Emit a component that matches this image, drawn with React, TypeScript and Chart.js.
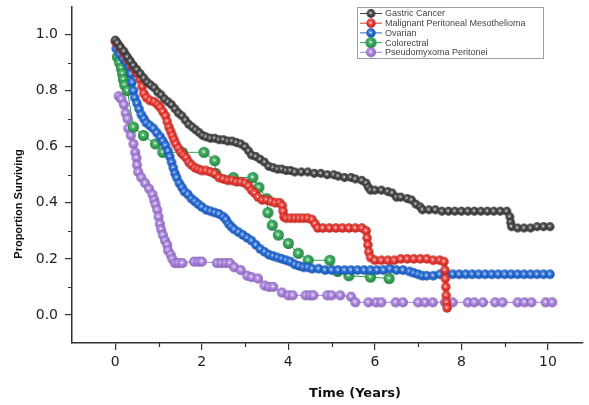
import React, { useEffect, useRef } from "react";
import { Chart, registerables } from "chart.js";
Chart.register(...registerables);

const seriesNames = [
  "Gastric Cancer",
  "Malignant Peritoneal Mesothelioma",
  "Ovarian",
  "Colorectral",
  "Pseudomyxoma Peritonei",
];
const seriesColors = ["#404040", "#e8332c", "#1f66d4", "#2fa252", "#a67ddc"];
const markerRadius = [4.4, 4.7, 4.7, 5.5, 4.9];

const xTickValues = [0, 2, 4, 6, 8, 10];
const xMinorValues = [1, 3, 5, 7, 9];
const yTickValues = [0, 0.2, 0.4, 0.6, 0.8, 1.0];
const yMinorValues = [0.1, 0.3, 0.5, 0.7, 0.9];

const gastricTime = [
  0.0, 0.05, 0.12, 0.2, 0.28, 0.35, 0.42, 0.5, 0.58, 0.66, 0.74, 0.82, 0.9, 0.98, 1.06, 1.14, 1.22, 1.3,
  1.38, 1.46, 1.54, 1.62, 1.7, 1.78, 1.86, 1.94, 2.02, 2.1, 2.2, 2.3, 2.4, 2.5, 2.6, 2.7, 2.8, 2.9, 3.0,
  3.08, 3.15, 3.25, 3.35, 3.45, 3.55, 3.65, 3.75, 3.85, 3.95, 4.05, 4.15, 4.3, 4.45, 4.6, 4.75, 4.9, 5.05,
  5.15, 5.3, 5.45, 5.55, 5.7, 5.8, 5.85, 5.9, 6.0, 6.15, 6.3, 6.4, 6.5, 6.6, 6.75, 6.85, 6.95, 7.05, 7.1,
  7.25, 7.4, 7.55, 7.7, 7.85, 8.0, 8.15, 8.3, 8.45, 8.6, 8.75, 8.9, 9.05, 9.12, 9.14, 9.16, 9.3, 9.45, 9.6,
  9.75, 9.9, 10.05,
];
const gastricSurv = [
  0.98, 0.97, 0.955, 0.94, 0.92, 0.905, 0.89, 0.875, 0.86, 0.845, 0.83, 0.82, 0.81, 0.795, 0.785, 0.77, 0.76,
  0.75, 0.735, 0.72, 0.71, 0.695, 0.68, 0.67, 0.66, 0.65, 0.64, 0.635, 0.63, 0.63, 0.625, 0.625, 0.62, 0.62,
  0.615, 0.61, 0.6, 0.585, 0.57, 0.565, 0.555, 0.545, 0.53, 0.525, 0.52, 0.52, 0.515, 0.515, 0.51, 0.51,
  0.51, 0.505, 0.505, 0.5, 0.5, 0.495, 0.49, 0.49, 0.485, 0.48, 0.47, 0.455, 0.445, 0.445, 0.445, 0.44,
  0.435, 0.42, 0.42, 0.415, 0.41, 0.395, 0.385, 0.375, 0.375, 0.375, 0.37, 0.37, 0.37, 0.37, 0.37, 0.37,
  0.37, 0.37, 0.37, 0.37, 0.37, 0.35, 0.33, 0.315, 0.31, 0.31, 0.31, 0.315, 0.315, 0.315,
];

const mesoTime = [
  0.0, 0.08, 0.15, 0.22, 0.3, 0.38, 0.46, 0.52, 0.58, 0.62, 0.66, 0.72, 0.8, 0.9, 0.98, 1.04, 1.1, 1.16,
  1.2, 1.24, 1.28, 1.32, 1.36, 1.4, 1.46, 1.52, 1.58, 1.64, 1.7, 1.76, 1.84, 1.92, 2.0, 2.1, 2.2, 2.3, 2.4,
  2.5, 2.6, 2.7, 2.8, 2.9, 3.0, 3.08, 3.15, 3.22, 3.3, 3.4, 3.5, 3.6, 3.7, 3.8, 3.86, 3.88, 3.9, 3.95, 4.05,
  4.15, 4.25, 4.35, 4.45, 4.55, 4.62, 4.68, 4.8, 4.95, 5.1, 5.25, 5.4, 5.55, 5.7, 5.8, 5.82, 5.84, 5.86,
  5.9, 6.0, 6.15, 6.3, 6.45, 6.6, 6.75, 6.9, 7.05, 7.2, 7.35, 7.5, 7.6, 7.62, 7.63, 7.64, 7.65, 7.66, 7.67,
];
const mesoSurv = [
  0.975, 0.96, 0.945, 0.93, 0.91, 0.89, 0.875, 0.86, 0.84, 0.815, 0.79, 0.775, 0.765, 0.76, 0.75, 0.74,
  0.725, 0.71, 0.69, 0.67, 0.655, 0.64, 0.625, 0.61, 0.595, 0.58, 0.57, 0.56, 0.545, 0.535, 0.525, 0.52,
  0.515, 0.515, 0.51, 0.505, 0.49, 0.485, 0.48, 0.48, 0.475, 0.475, 0.47, 0.46, 0.445, 0.435, 0.42, 0.41,
  0.41, 0.405, 0.4, 0.4, 0.39, 0.37, 0.35, 0.345, 0.345, 0.345, 0.345, 0.345, 0.345, 0.34, 0.325, 0.31,
  0.31, 0.31, 0.31, 0.31, 0.31, 0.31, 0.31, 0.3, 0.275, 0.25, 0.225, 0.205, 0.195, 0.195, 0.195, 0.195, 0.2,
  0.2, 0.2, 0.2, 0.2, 0.195, 0.195, 0.19, 0.16, 0.13, 0.1, 0.07, 0.045, 0.025,
];

const ovarianTime = [
  0.02, 0.1, 0.18, 0.26, 0.32, 0.36, 0.39, 0.42, 0.45, 0.5, 0.55, 0.6, 0.66, 0.72, 0.8, 0.88, 0.96, 1.04,
  1.1, 1.16, 1.22, 1.26, 1.3, 1.34, 1.38, 1.42, 1.48, 1.54, 1.6, 1.68, 1.76, 1.84, 1.92, 2.0, 2.1, 2.2, 2.3,
  2.4, 2.5, 2.56, 2.62, 2.68, 2.75, 2.85, 2.95, 3.05, 3.15, 3.25, 3.35, 3.45, 3.55, 3.65, 3.75, 3.85, 3.95,
  4.05, 4.15, 4.25, 4.35, 4.45, 4.55, 4.7, 4.85, 5.0, 5.15, 5.3, 5.45, 5.6, 5.75, 5.9, 6.05, 6.2, 6.35, 6.5,
  6.65, 6.8, 6.9, 7.0, 7.1, 7.2, 7.35, 7.5, 7.65, 7.8, 7.95, 8.1, 8.25, 8.4, 8.55, 8.7, 8.85, 9.0, 9.15,
  9.3, 9.45, 9.6, 9.75, 9.9, 10.05,
];
const ovarianSurv = [
  0.95, 0.93, 0.915, 0.9, 0.885, 0.86, 0.83, 0.8, 0.775, 0.755, 0.735, 0.715, 0.7, 0.685, 0.675, 0.665,
  0.65, 0.635, 0.62, 0.605, 0.585, 0.565, 0.545, 0.525, 0.505, 0.49, 0.47, 0.455, 0.44, 0.43, 0.415, 0.405,
  0.395, 0.385, 0.375, 0.37, 0.365, 0.36, 0.35, 0.34, 0.325, 0.315, 0.305, 0.295, 0.285, 0.275, 0.265,
  0.25, 0.235, 0.225, 0.215, 0.21, 0.205, 0.2, 0.195, 0.19, 0.18, 0.175, 0.17, 0.17, 0.165, 0.165, 0.16,
  0.16, 0.16, 0.16, 0.16, 0.16, 0.16, 0.16, 0.16, 0.16, 0.165, 0.16, 0.16, 0.155, 0.15, 0.145, 0.14, 0.14,
  0.14, 0.145, 0.145, 0.145, 0.145, 0.145, 0.145, 0.145, 0.145, 0.145, 0.145, 0.145, 0.145, 0.145, 0.145,
  0.145, 0.145, 0.145, 0.145,
];

const colorectalTime = [
  0.05, 0.1, 0.14, 0.17, 0.19, 0.22, 0.28, 0.42, 0.65, 0.93, 1.1, 1.55, 2.05, 2.3, 2.32, 2.73, 3.18, 3.32,
  3.5, 3.53, 3.63, 3.77, 4.0, 4.23, 4.46, 4.96, 5.14, 5.4, 5.9, 6.33,
];
const colorectalSurv = [
  0.92, 0.9, 0.88, 0.86, 0.84, 0.82, 0.8, 0.67, 0.64, 0.61, 0.58, 0.58, 0.58, 0.55, 0.505, 0.49, 0.49,
  0.455, 0.415, 0.365, 0.32, 0.285, 0.255, 0.22, 0.195, 0.195, 0.155, 0.14, 0.135, 0.13,
];

const pseudoTime = [
  0.08, 0.14, 0.2, 0.24, 0.28, 0.3, 0.36, 0.42, 0.46, 0.49, 0.5, 0.53, 0.6, 0.69, 0.78, 0.86, 0.9, 0.93,
  0.97, 1.0, 1.03, 1.06, 1.1, 1.15, 1.2, 1.22, 1.28, 1.32, 1.38, 1.46, 1.55, 1.82, 1.92, 2.0, 2.35, 2.45,
  2.55, 2.65, 2.75, 2.9, 3.05, 3.15, 3.3, 3.45, 3.55, 3.65, 3.85, 4.0, 4.1, 4.4, 4.5, 4.58, 4.9, 5.0, 5.2,
  5.45, 5.55, 5.85, 6.03, 6.15, 6.48, 6.65, 7.0, 7.16, 7.34, 7.62, 7.8, 8.15, 8.3, 8.5, 8.78, 8.95, 9.3,
  9.46, 9.62, 9.95, 10.1,
];
const pseudoSurv = [
  0.78, 0.77, 0.75, 0.72, 0.7, 0.665, 0.64, 0.61, 0.58, 0.56, 0.535, 0.51, 0.49, 0.47, 0.45, 0.43, 0.41,
  0.395, 0.375, 0.35, 0.325, 0.305, 0.285, 0.265, 0.25, 0.23, 0.215, 0.2, 0.185, 0.185, 0.185, 0.19, 0.19,
  0.19, 0.185, 0.185, 0.185, 0.185, 0.17, 0.16, 0.14, 0.135, 0.13, 0.105, 0.1, 0.1, 0.08, 0.07, 0.07, 0.07,
  0.07, 0.07, 0.07, 0.07, 0.07, 0.065, 0.045, 0.045, 0.045, 0.045, 0.045, 0.045, 0.045, 0.045, 0.045,
  0.045, 0.045, 0.045, 0.045, 0.045, 0.045, 0.045, 0.045, 0.045, 0.045, 0.045, 0.045,
];

const seriesTimes = [gastricTime, mesoTime, ovarianTime, colorectalTime, pseudoTime];
const seriesSurv = [gastricSurv, mesoSurv, ovarianSurv, colorectalSurv, pseudoSurv];

function shade(hex: string, f: number): string {
  const n = parseInt(hex.slice(1), 16);
  let r = (n >> 16) & 255, g = (n >> 8) & 255, b = n & 255;
  if (f >= 0) {
    r = r + (255 - r) * f; g = g + (255 - g) * f; b = b + (255 - b) * f;
  } else {
    r = r * (1 + f); g = g * (1 + f); b = b * (1 + f);
  }
  return `rgb(${Math.round(r)},${Math.round(g)},${Math.round(b)})`;
}

function makeBall(color: string, r: number): HTMLCanvasElement {
  const s = Math.ceil(r * 2 + 2);
  const c = document.createElement("canvas");
  c.width = s;
  c.height = s;
  const ctx = c.getContext("2d")!;
  const cx = s / 2, cy = s / 2;
  const g = ctx.createRadialGradient(cx - r * 0.25, cy - r * 0.3, r * 0.1, cx, cy, r);
  g.addColorStop(0, shade(color, 0.3));
  g.addColorStop(0.65, color);
  g.addColorStop(1, shade(color, -0.25));
  ctx.fillStyle = g;
  ctx.beginPath();
  ctx.arc(cx, cy, r, 0, Math.PI * 2);
  ctx.fill();
  ctx.fillStyle = "rgba(255,255,255,0.9)";
  ctx.beginPath();
  ctx.arc(cx - 0.3, cy - 0.4, Math.max(0.9, r * 0.2), 0, Math.PI * 2);
  ctx.fill();
  return c;
}

const decorPlugin = {
  id: "decor",
  afterDraw(chart: any) {
    const ctx = chart.ctx as CanvasRenderingContext2D;
    const xs = chart.scales.x;
    const ys = chart.scales.y;
    const area = chart.chartArea;
    ctx.save();
    // minor ticks
    ctx.strokeStyle = "#333";
    ctx.lineWidth = 1.2;
    ctx.beginPath();
    for (const v of yMinorValues) {
      const py = Math.round(ys.getPixelForValue(v)) + 0.5;
      ctx.moveTo(area.left - 4, py);
      ctx.lineTo(area.left, py);
    }
    for (const v of xMinorValues) {
      const px = Math.round(xs.getPixelForValue(v)) + 0.5;
      ctx.moveTo(px, area.bottom);
      ctx.lineTo(px, area.bottom + 4);
    }
    ctx.stroke();

    // axis titles
    ctx.fillStyle = "#111";
    ctx.textAlign = "center";
    ctx.textBaseline = "middle";
    ctx.font = "bold 13px 'DejaVu Sans'";
    ctx.fillText("Time (Years)", 355, 394);
    ctx.save();
    ctx.translate(19, 204);
    ctx.rotate(-Math.PI / 2);
    ctx.font = "bold 11px 'Liberation Sans'";
    ctx.fillText("Proportion Surviving", 0, 0);
    ctx.restore();

    // legend
    const bx = 357.5, by = 7.5, bw = 186, bh = 51;
    ctx.fillStyle = "#fff";
    ctx.fillRect(bx, by, bw, bh);
    ctx.strokeStyle = "#a0a0a0";
    ctx.lineWidth = 1;
    ctx.strokeRect(bx, by, bw, bh);
    ctx.font = "9px 'Liberation Sans'";
    ctx.textAlign = "left";
    ctx.textBaseline = "middle";
    chart.data.datasets.forEach((ds: any, i: number) => {
      const y = 13.5 + i * 9.7;
      ctx.strokeStyle = ds.borderColor;
      ctx.lineWidth = 1;
      ctx.beginPath();
      ctx.moveTo(360, y);
      ctx.lineTo(382, y);
      ctx.stroke();
      const img = ds.pointStyle as HTMLCanvasElement;
      ctx.drawImage(img, 371 - img.width / 2, y - img.height / 2);
      ctx.fillStyle = "#444";
      ctx.fillText(ds.label, 385, y + 0.5);
    });
    ctx.restore();
  },
};

export default function App() {
  const ref = useRef<HTMLCanvasElement>(null);
  useEffect(() => {
    if (!ref.current) return;
    const datasets = seriesNames.map((name, i) => ({
      label: name,
      data: seriesTimes[i].map((t, j) => ({ x: t, y: seriesSurv[i][j] })),
      borderColor: seriesColors[i],
      backgroundColor: seriesColors[i],
      borderWidth: 1,
      pointStyle: makeBall(seriesColors[i], markerRadius[i]),
      pointRadius: markerRadius[i],
      showLine: true,
      tension: 0,
    }));
    const tickFont = { family: "'DejaVu Sans'", size: 14 };
    const chart = new Chart(ref.current, {
      type: "scatter",
      data: { datasets },
      options: {
        animation: false,
        responsive: false,
        devicePixelRatio: 1,
        layout: { padding: { top: 5, right: 6, left: 0, bottom: 0 } },
        plugins: { legend: { display: false }, tooltip: { enabled: false } },
        scales: {
          x: {
            type: "linear",
            min: -1,
            max: 10.8,
            grid: { drawOnChartArea: false, drawTicks: true, tickLength: 7, color: "#333", lineWidth: 1.2 },
            border: { color: "#333", width: 1.5 },
            ticks: { font: tickFont, color: "#222", padding: 4, callback: (v: any) => String(v) },
            afterBuildTicks: (s: any) => {
              s.ticks = xTickValues.map((v) => ({ value: v }));
            },
            afterFit: (s: any) => {
              s.height = 62;
              s.paddingLeft = 0;
              s.paddingRight = 0;
            },
          },
          y: {
            type: "linear",
            min: -0.1,
            max: 1.1,
            grid: { drawOnChartArea: false, drawTicks: true, tickLength: 7, color: "#333", lineWidth: 1.2 },
            border: { color: "#333", width: 1.5 },
            ticks: { font: tickFont, color: "#222", padding: 7, callback: (v: any) => Number(v).toFixed(1) },
            afterBuildTicks: (s: any) => {
              s.ticks = yTickValues.map((v) => ({ value: v }));
            },
            afterFit: (s: any) => {
              s.width = 72;
              s.paddingTop = 0;
              s.paddingBottom = 0;
            },
          },
        },
      },
      plugins: [decorPlugin],
    });
    return () => chart.destroy();
  }, []);
  return (
    <div style={{ position: "absolute", left: 0, top: 0, width: 589, height: 405, background: "#fff" }}>
      <canvas ref={ref} width={589} height={405} style={{ width: 589, height: 405 }} />
    </div>
  );
}
